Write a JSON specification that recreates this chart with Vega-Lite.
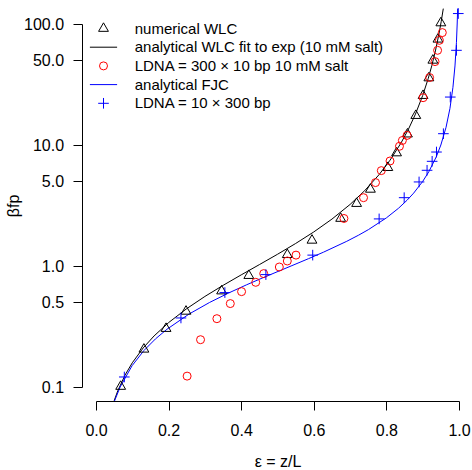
{
  "$schema": "https://vega.github.io/schema/vega-lite/v6.json",
  "width": 363,
  "height": 363,
  "autosize": {"type": "none"},
  "padding": {"left": 96, "top": 24, "right": 13, "bottom": 83},
  "config": {
    "view": {"stroke": null},
    "font": "Liberation Sans",
    "axis": {
      "grid": false,
      "domainColor": "#000000",
      "domainWidth": 1,
      "tickColor": "#000000",
      "tickWidth": 1,
      "tickSize": 9,
      "labelColor": "#000000",
      "labelFont": "Liberation Sans",
      "labelFontSize": 16,
      "labelFlush": false,
      "labelOverlap": false,
      "labelBound": false,
      "titleFont": "Liberation Sans",
      "titleFontSize": 16,
      "titleFontWeight": "normal",
      "titleColor": "#000000"
    },
    "legend": {
      "labelFont": "Liberation Sans",
      "labelColor": "#000000"
    }
  },
  "datasets": {
    "curves": [
      {"series": "analytical WLC fit to exp (10 mM salt)", "x": 0.05, "y": 0.077},
      {"series": "analytical WLC fit to exp (10 mM salt)", "x": 0.06, "y": 0.0929},
      {"series": "analytical WLC fit to exp (10 mM salt)", "x": 0.08, "y": 0.1254},
      {"series": "analytical WLC fit to exp (10 mM salt)", "x": 0.10, "y": 0.1586},
      {"series": "analytical WLC fit to exp (10 mM salt)", "x": 0.13, "y": 0.2103},
      {"series": "analytical WLC fit to exp (10 mM salt)", "x": 0.16, "y": 0.2643},
      {"series": "analytical WLC fit to exp (10 mM salt)", "x": 0.20, "y": 0.3406},
      {"series": "analytical WLC fit to exp (10 mM salt)", "x": 0.25, "y": 0.4444},
      {"series": "analytical WLC fit to exp (10 mM salt)", "x": 0.30, "y": 0.5602},
      {"series": "analytical WLC fit to exp (10 mM salt)", "x": 0.35, "y": 0.6917},
      {"series": "analytical WLC fit to exp (10 mM salt)", "x": 0.40, "y": 0.8444},
      {"series": "analytical WLC fit to exp (10 mM salt)", "x": 0.45, "y": 1.0264},
      {"series": "analytical WLC fit to exp (10 mM salt)", "x": 0.50, "y": 1.25},
      {"series": "analytical WLC fit to exp (10 mM salt)", "x": 0.55, "y": 1.5346},
      {"series": "analytical WLC fit to exp (10 mM salt)", "x": 0.60, "y": 1.9125},
      {"series": "analytical WLC fit to exp (10 mM salt)", "x": 0.65, "y": 2.4408},
      {"series": "analytical WLC fit to exp (10 mM salt)", "x": 0.70, "y": 3.2278},
      {"series": "analytical WLC fit to exp (10 mM salt)", "x": 0.74, "y": 4.1882},
      {"series": "analytical WLC fit to exp (10 mM salt)", "x": 0.78, "y": 5.6953},
      {"series": "analytical WLC fit to exp (10 mM salt)", "x": 0.81, "y": 7.4852},
      {"series": "analytical WLC fit to exp (10 mM salt)", "x": 0.84, "y": 10.356},
      {"series": "analytical WLC fit to exp (10 mM salt)", "x": 0.86, "y": 13.365},
      {"series": "analytical WLC fit to exp (10 mM salt)", "x": 0.88, "y": 17.991},
      {"series": "analytical WLC fit to exp (10 mM salt)", "x": 0.90, "y": 25.65},
      {"series": "analytical WLC fit to exp (10 mM salt)", "x": 0.915, "y": 35.27},
      {"series": "analytical WLC fit to exp (10 mM salt)", "x": 0.925, "y": 45.12},
      {"series": "analytical WLC fit to exp (10 mM salt)", "x": 0.935, "y": 59.86},
      {"series": "analytical WLC fit to exp (10 mM salt)", "x": 0.945, "y": 83.34},
      {"series": "analytical WLC fit to exp (10 mM salt)", "x": 0.951, "y": 104.8},
      {"series": "analytical WLC fit to exp (10 mM salt)", "x": 0.9567, "y": 134},
      {"series": "analytical FJC", "x": 0.051, "y": 0.0766},
      {"series": "analytical FJC", "x": 0.0665, "y": 0.1},
      {"series": "analytical FJC", "x": 0.0994, "y": 0.15},
      {"series": "analytical FJC", "x": 0.1319, "y": 0.2},
      {"series": "analytical FJC", "x": 0.1640, "y": 0.25},
      {"series": "analytical FJC", "x": 0.1954, "y": 0.3},
      {"series": "analytical FJC", "x": 0.2559, "y": 0.4},
      {"series": "analytical FJC", "x": 0.3130, "y": 0.5},
      {"series": "analytical FJC", "x": 0.3662, "y": 0.6},
      {"series": "analytical FJC", "x": 0.4152, "y": 0.7},
      {"series": "analytical FJC", "x": 0.4600, "y": 0.8},
      {"series": "analytical FJC", "x": 0.5373, "y": 1.0},
      {"series": "analytical FJC", "x": 0.5855, "y": 1.15},
      {"series": "analytical FJC", "x": 0.6265, "y": 1.3},
      {"series": "analytical FJC", "x": 0.6908, "y": 1.6},
      {"series": "analytical FJC", "x": 0.7237, "y": 1.8},
      {"series": "analytical FJC", "x": 0.7507, "y": 2.0},
      {"series": "analytical FJC", "x": 0.8001, "y": 2.5},
      {"series": "analytical FJC", "x": 0.8333, "y": 3.0},
      {"series": "analytical FJC", "x": 0.8571, "y": 3.5},
      {"series": "analytical FJC", "x": 0.875, "y": 4.0},
      {"series": "analytical FJC", "x": 0.9, "y": 5.0},
      {"series": "analytical FJC", "x": 0.9167, "y": 6.0},
      {"series": "analytical FJC", "x": 0.9375, "y": 8.0},
      {"series": "analytical FJC", "x": 0.95, "y": 10.0},
      {"series": "analytical FJC", "x": 0.9643, "y": 14.0},
      {"series": "analytical FJC", "x": 0.975, "y": 20.0},
      {"series": "analytical FJC", "x": 0.9833, "y": 30.0},
      {"series": "analytical FJC", "x": 0.9889, "y": 45.0},
      {"series": "analytical FJC", "x": 0.9929, "y": 70.0},
      {"series": "analytical FJC", "x": 0.995, "y": 100.0},
      {"series": "analytical FJC", "x": 0.9963, "y": 134.0}
    ],
    "points": [
      {"series": "numerical WLC", "x": 0.068, "y": 0.101},
      {"series": "numerical WLC", "x": 0.132, "y": 0.205},
      {"series": "numerical WLC", "x": 0.193, "y": 0.304},
      {"series": "numerical WLC", "x": 0.248, "y": 0.422},
      {"series": "numerical WLC", "x": 0.346, "y": 0.621},
      {"series": "numerical WLC", "x": 0.421, "y": 0.833},
      {"series": "numerical WLC", "x": 0.527, "y": 1.24},
      {"series": "numerical WLC", "x": 0.595, "y": 1.63},
      {"series": "numerical WLC", "x": 0.674, "y": 2.47},
      {"series": "numerical WLC", "x": 0.718, "y": 3.28},
      {"series": "numerical WLC", "x": 0.756, "y": 4.30},
      {"series": "numerical WLC", "x": 0.804, "y": 6.50},
      {"series": "numerical WLC", "x": 0.828, "y": 8.59},
      {"series": "numerical WLC", "x": 0.858, "y": 12.3},
      {"series": "numerical WLC", "x": 0.881, "y": 17.5},
      {"series": "numerical WLC", "x": 0.901, "y": 25.6},
      {"series": "numerical WLC", "x": 0.917, "y": 35.8},
      {"series": "numerical WLC", "x": 0.928, "y": 50.1},
      {"series": "numerical WLC", "x": 0.942, "y": 74.8},
      {"series": "numerical WLC", "x": 0.950, "y": 102},
      {"series": "LDNA = 300 × 10 bp 10 mM salt", "x": 0.251, "y": 0.123},
      {"series": "LDNA = 300 × 10 bp 10 mM salt", "x": 0.288, "y": 0.246},
      {"series": "LDNA = 300 × 10 bp 10 mM salt", "x": 0.333, "y": 0.367},
      {"series": "LDNA = 300 × 10 bp 10 mM salt", "x": 0.370, "y": 0.489},
      {"series": "LDNA = 300 × 10 bp 10 mM salt", "x": 0.401, "y": 0.614},
      {"series": "LDNA = 300 × 10 bp 10 mM salt", "x": 0.440, "y": 0.733},
      {"series": "LDNA = 300 × 10 bp 10 mM salt", "x": 0.462, "y": 0.865},
      {"series": "LDNA = 300 × 10 bp 10 mM salt", "x": 0.505, "y": 0.981},
      {"series": "LDNA = 300 × 10 bp 10 mM salt", "x": 0.527, "y": 1.10},
      {"series": "LDNA = 300 × 10 bp 10 mM salt", "x": 0.551, "y": 1.23},
      {"series": "LDNA = 300 × 10 bp 10 mM salt", "x": 0.683, "y": 2.47},
      {"series": "LDNA = 300 × 10 bp 10 mM salt", "x": 0.737, "y": 3.67},
      {"series": "LDNA = 300 × 10 bp 10 mM salt", "x": 0.770, "y": 4.89},
      {"series": "LDNA = 300 × 10 bp 10 mM salt", "x": 0.786, "y": 6.14},
      {"series": "LDNA = 300 × 10 bp 10 mM salt", "x": 0.810, "y": 7.38},
      {"series": "LDNA = 300 × 10 bp 10 mM salt", "x": 0.836, "y": 9.76},
      {"series": "LDNA = 300 × 10 bp 10 mM salt", "x": 0.844, "y": 10.9},
      {"series": "LDNA = 300 × 10 bp 10 mM salt", "x": 0.857, "y": 12.0},
      {"series": "LDNA = 300 × 10 bp 10 mM salt", "x": 0.901, "y": 24.6},
      {"series": "LDNA = 300 × 10 bp 10 mM salt", "x": 0.919, "y": 36.1},
      {"series": "LDNA = 300 × 10 bp 10 mM salt", "x": 0.934, "y": 48.9},
      {"series": "LDNA = 300 × 10 bp 10 mM salt", "x": 0.941, "y": 60.6},
      {"series": "LDNA = 300 × 10 bp 10 mM salt", "x": 0.946, "y": 73.3},
      {"series": "LDNA = 300 × 10 bp 10 mM salt", "x": 0.954, "y": 84.9},
      {"series": "LDNA = 10 × 300 bp", "x": 0.078, "y": 0.121},
      {"series": "LDNA = 10 × 300 bp", "x": 0.234, "y": 0.372},
      {"series": "LDNA = 10 × 300 bp", "x": 0.355, "y": 0.603},
      {"series": "LDNA = 10 × 300 bp", "x": 0.468, "y": 0.849},
      {"series": "LDNA = 10 × 300 bp", "x": 0.597, "y": 1.23},
      {"series": "LDNA = 10 × 300 bp", "x": 0.780, "y": 2.45},
      {"series": "LDNA = 10 × 300 bp", "x": 0.849, "y": 3.67},
      {"series": "LDNA = 10 × 300 bp", "x": 0.890, "y": 4.95},
      {"series": "LDNA = 10 × 300 bp", "x": 0.912, "y": 6.18},
      {"series": "LDNA = 10 × 300 bp", "x": 0.926, "y": 7.33},
      {"series": "LDNA = 10 × 300 bp", "x": 0.938, "y": 8.75},
      {"series": "LDNA = 10 × 300 bp", "x": 0.957, "y": 12.4},
      {"series": "LDNA = 10 × 300 bp", "x": 0.976, "y": 24.9},
      {"series": "LDNA = 10 × 300 bp", "x": 0.993, "y": 60.6},
      {"series": "LDNA = 10 × 300 bp", "x": 0.998, "y": 122}
    ]
  },
  "layer": [
    {
      "data": {"name": "curves"},
      "mark": {"type": "line", "strokeWidth": 1},
      "encoding": {
        "x": {
          "field": "x", "type": "quantitative",
          "scale": {"domain": [0, 1], "nice": false, "zero": false},
          "axis": {"title": "ε = z/L", "values": [0, 0.2, 0.4, 0.6, 0.8, 1], "format": ".1f", "offset": 14, "labelPadding": 12.5, "titlePadding": 15}
        },
        "y": {
          "field": "y", "type": "quantitative",
          "scale": {"type": "log", "domain": [0.1, 100], "nice": false},
          "axis": {"title": "βfp", "values": [0.1, 0.5, 1, 5, 10, 50, 100], "format": ".1f", "offset": 14, "labelPadding": 9.4, "titlePadding": 2}
        },
        "color": {
          "field": "series", "type": "nominal",
          "scale": {
            "domain": ["numerical WLC", "analytical WLC fit to exp (10 mM salt)", "LDNA = 300 × 10 bp 10 mM salt", "analytical FJC", "LDNA = 10 × 300 bp"],
            "range": ["#000000", "#000000", "#FF0000", "#0000FF", "#0000FF"]
          },
          "legend": {"title": null, "orient": "none", "legendX": 0, "legendY": -3, "padding": 0, "labelFontSize": 15, "labelOffset": 23.7, "rowPadding": 2.7, "symbolSize": 64, "symbolStrokeWidth": 1, "labelLimit": 400}
        }
      }
    },
    {
      "data": {"name": "points"},
      "mark": {"type": "point", "filled": false, "strokeWidth": 1, "size": 64, "opacity": 1},
      "encoding": {
        "x": {"field": "x", "type": "quantitative"},
        "y": {"field": "y", "type": "quantitative"},
        "color": {"field": "series", "type": "nominal"},
        "shape": {
          "field": "series", "type": "nominal",
          "scale": {
            "domain": ["numerical WLC", "analytical WLC fit to exp (10 mM salt)", "LDNA = 300 × 10 bp 10 mM salt", "analytical FJC", "LDNA = 10 × 300 bp"],
            "range": ["M0,-1.42L1.23,0.71L-1.23,0.71Z", "M-3.4,0H3.4", "circle", "M-3.4,0H3.4", "M-1.33,0H1.33M0,-1.33V1.33"]
          },
          "legend": {"title": null, "orient": "none", "legendX": 0, "legendY": -3, "padding": 0, "labelFontSize": 15, "labelOffset": 23.7, "rowPadding": 2.7, "symbolSize": 64, "symbolStrokeWidth": 1, "labelLimit": 400}
        }
      }
    }
  ]
}
